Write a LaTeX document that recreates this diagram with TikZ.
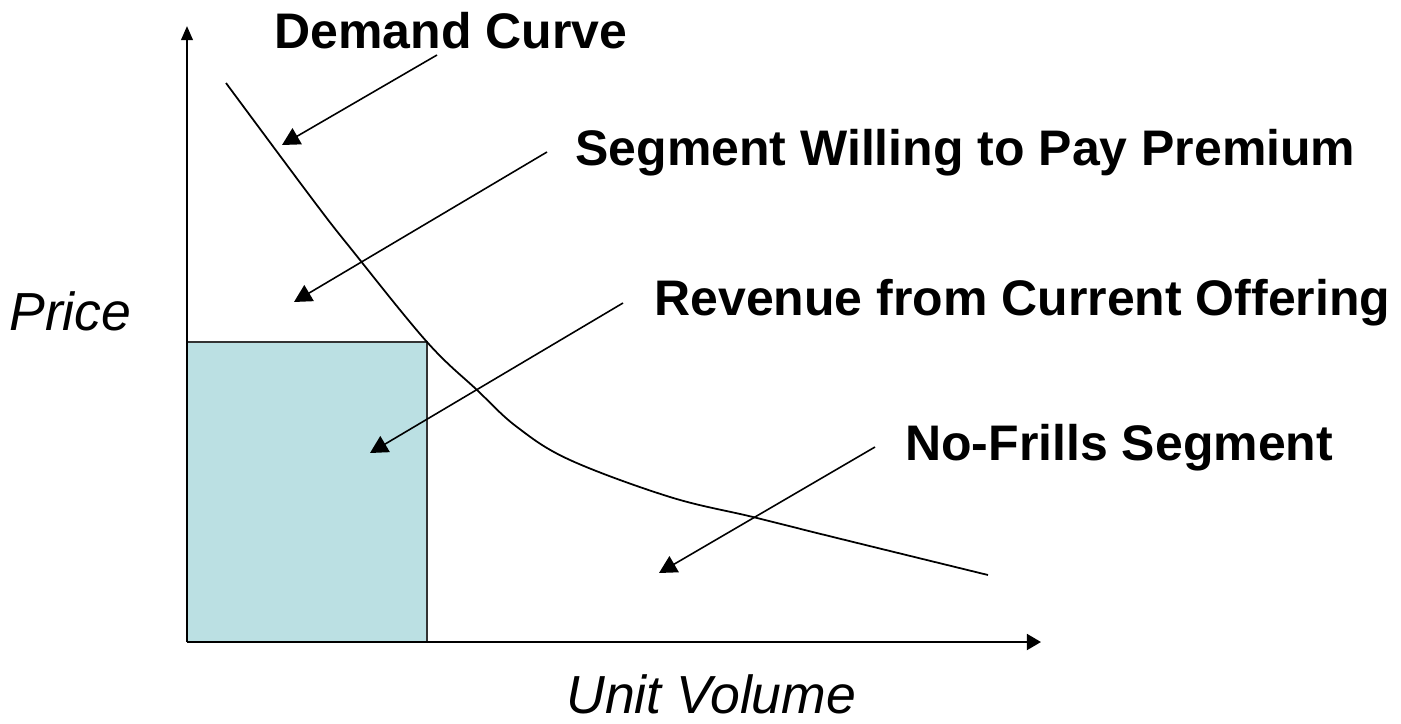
\documentclass[tikz,border=0pt]{standalone}
\usepackage{fontspec}
\usepackage{xcolor}
\usepackage{tikz}
\usetikzlibrary{arrows.meta}
\setmainfont{Liberation Sans}

\definecolor{revblue}{RGB}{187,224,227}

\begin{document}
\begin{tikzpicture}[x=0.02cm, y=-0.02cm,
    lbl/.style={anchor=base west, inner sep=0pt, font=\fontsize{28.45}{34}\selectfont\bfseries},
    axlbl/.style={anchor=base west, inner sep=0pt, font=\fontsize{30.5}{36}\selectfont\itshape},
    pointer/.style={line width=0.9pt, -{Triangle[length=10pt, width=10.5pt]}}]
        \useasboundingbox (0,0) rectangle (1401,724);

        % Axis corner and arrow tips
        \coordinate (o) at (187,642);
        \coordinate (ytip) at (187,26);
        \coordinate (xtip) at (1041,642);

        % Revenue block under the current price
        \fill[revblue] (o) rectangle (427,342);
        \draw[black!80, line width=0.8pt] (187,342) -- (427,342) -- (427,642);

        % Axes
        \draw[line width=1.4pt, -{Triangle[length=8pt, width=6.5pt]}] (o) -- (ytip);
        \draw[line width=1.4pt, -{Triangle[length=8pt, width=9pt]}] (o) -- (xtip);

        % Demand curve
        \draw[line width=1pt] plot[smooth, tension=0.6] coordinates {
            (226,83)
            (313,200)
            (352,250)
            (427,342)
            (477,390)
            (517,427)
            (570,460)
            (670,497)
            (753,517)
            (833,537)
            (988,575)
        };

        % Labels
        \node[lbl] (dem) at (274,48) {Demand Curve};
        \node[lbl] (seg) at (575,165) {Segment Willing to Pay Premium};
        \node[lbl] (rev) at (654,315) {Revenue from Current Offering};
        \node[lbl] (nof) at (905,460) {No-Frills Segment};
        \node[axlbl] (price) at (9,330) {Price};
        \node[axlbl] (vol) at (566,713) {Unit Volume};

        % Pointer start and end points
        \coordinate (dem-s) at (437,55);
        \coordinate (dem-t) at (282,145);
        \coordinate (seg-s) at (547,152);
        \coordinate (seg-t) at (294,302);
        \coordinate (rev-s) at (623,303);
        \coordinate (rev-t) at (370,453);
        \coordinate (nof-s) at (875,447);
        \coordinate (nof-t) at (659,573);

        % Pointers from the labels
        \draw[pointer] (dem-s) -- (dem-t);
        \draw[pointer] (seg-s) -- (seg-t);
        \draw[pointer] (rev-s) -- (rev-t);
        \draw[pointer] (nof-s) -- (nof-t);
    \end{tikzpicture}
\end{document}
